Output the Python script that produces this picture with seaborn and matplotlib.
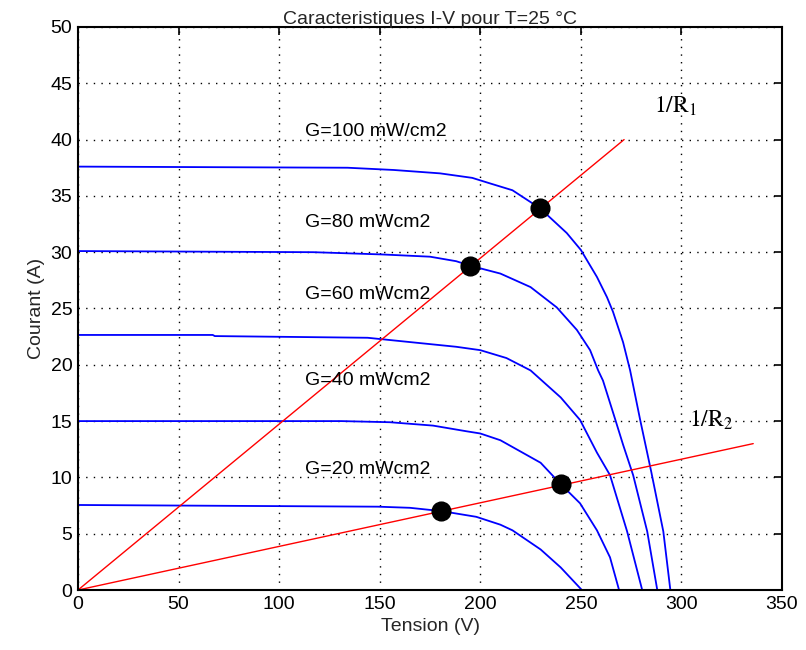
import pandas as pd
import matplotlib
matplotlib.use('Agg')
import matplotlib.pyplot as plt
import seaborn as sns

# Courbes I-V (tension V, courant A)
v_g100 = [0, 134, 157, 180, 196, 205, 216, 229.7, 243, 250, 258, 263, 266, 271, 274.5, 279.5, 285, 291, 294.5]
i_g100 = [37.6, 37.5, 37.3, 37.0, 36.6, 36.1, 35.5, 33.9, 31.7, 30.2, 27.8, 26.0, 24.7, 22.0, 19.5, 15.1, 10.5, 5.2, 0]

v_g80 = [0, 117, 151, 175, 188, 195, 210, 225, 238, 248, 254.6, 258.6, 261, 267, 271, 276, 283, 288]
i_g80 = [30.1, 30.0, 29.8, 29.6, 29.2, 28.8, 28.1, 26.9, 25.1, 23.1, 21.3, 19.5, 18.6, 15.2, 12.9, 10.2, 5.2, 0]

v_g60 = [0, 67, 68, 144, 171.5, 188, 200, 213, 225, 240, 249.6, 258, 264.5, 273, 280.5]
i_g60 = [22.65, 22.65, 22.55, 22.4, 21.9, 21.6, 21.3, 20.6, 19.5, 17.1, 15.1, 12.2, 10.2, 5.2, 0]

v_g40 = [0, 131, 155, 176.5, 193, 200, 210, 216, 230, 240, 249.6, 258, 264.5, 269]
i_g40 = [15.0, 15.0, 14.9, 14.6, 14.1, 13.9, 13.3, 12.7, 11.3, 9.4, 7.7, 5.3, 2.9, 0]

v_g20 = [0, 149, 165, 181, 198, 210, 216, 230, 240, 250.5]
i_g20 = [7.55, 7.4, 7.3, 7.0, 6.5, 5.8, 5.3, 3.6, 2.0, 0]

# Droites de charge
r1_v = [0, 271.5]
r1_i = [0, 40.0]
r2_v = [0, 335.7]
r2_i = [0, 13.0]

# Points de fonctionnement
op_v = [229.7, 195, 180.5, 240]
op_i = [33.9, 28.8, 7.0, 9.4]

labels = ['G=100 mW/cm2', 'G=80 mWcm2', 'G=60 mWcm2', 'G=40 mWcm2', 'G=20 mWcm2']
label_i = [40.7, 32.6, 26.2, 18.6, 10.7]

sns.set_theme(style='white')
plt.rcParams['font.family'] = ['Liberation Sans', 'DejaVu Sans']
plt.rcParams['mathtext.fontset'] = 'stix'

fig = plt.figure(figsize=(8.06, 6.5), dpi=100)
ax = fig.add_axes([0.0968, 0.0923, 0.8734, 0.8662])

for v, i in [(v_g100, i_g100), (v_g80, i_g80), (v_g60, i_g60), (v_g40, i_g40), (v_g20, i_g20)]:
    df = pd.DataFrame({'V': v, 'I': i})
    sns.lineplot(data=df, x='V', y='I', ax=ax, color='#0000ff', linewidth=1.3, sort=False, estimator=None)

sns.lineplot(x=r1_v, y=r1_i, ax=ax, color='#ff0000', linewidth=1.0)
sns.lineplot(x=r2_v, y=r2_i, ax=ax, color='#ff0000', linewidth=1.0)
sns.scatterplot(x=op_v, y=op_i, ax=ax, color='black', s=180, zorder=5, edgecolor='black')

for txt, y in zip(labels, label_i):
    ax.text(113, y, txt, fontsize=14, color='black', va='center', ha='left')

ax.text(286.4, 42.4, r'$\mathrm{1/R_1}$', fontsize=17, color='black', va='baseline')
ax.text(304, 14.5, r'$\mathrm{1/R_2}$', fontsize=17, color='black', va='baseline')

ax.set_xlim(0, 350)
ax.set_ylim(0, 50)
ax.set_xticks(range(0, 351, 50))
ax.set_yticks(range(0, 51, 5))
ax.grid(True, linestyle=(0, (1, 4.5)), color='black', linewidth=1.0)
ax.tick_params(direction='in', length=6, width=1.2, top=True, right=True,
               labelsize=14, colors='black', pad=4)
for sp in ax.spines.values():
    sp.set_color('black')
    sp.set_linewidth(1.5)
    sp.set_visible(True)

ax.set_title('Caracteristiques I-V pour T=25 °C', fontsize=14, pad=2)
ax.set_xlabel('Tension (V)', fontsize=14, labelpad=4)
ax.set_ylabel('Courant (A)', fontsize=14, labelpad=4)

fig.savefig('out.png', dpi=100)
